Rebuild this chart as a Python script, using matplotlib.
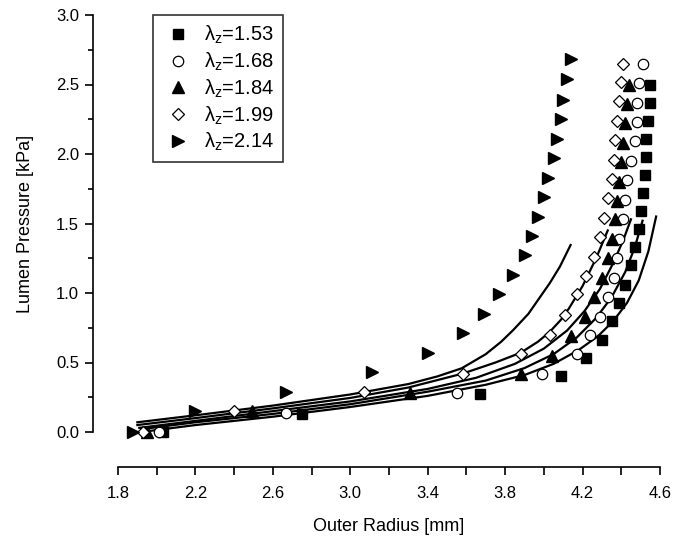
import numpy as np
import matplotlib
matplotlib.use("Agg")
import matplotlib.pyplot as plt
from matplotlib.ticker import MultipleLocator, FixedLocator

plt.rcParams['font.family'] = ['Liberation Sans', 'DejaVu Sans']

# ==============================================================================
# DATA
# ==============================================================================
stretch_labels = ['1.53', '1.68', '1.84', '1.99', '2.14']
x_ticks = [1.8, 2.2, 2.6, 3.0, 3.4, 3.8, 4.2, 4.6]

# measured points: outer radius [mm], lumen pressure [kPa]
r_153 = [2.03, 2.75, 3.67, 4.09, 4.22, 4.30, 4.35, 4.39, 4.42, 4.45, 4.47, 4.49,
         4.50, 4.51, 4.52, 4.53, 4.53, 4.54, 4.55, 4.55]
p_153 = [0.00, 0.13, 0.27, 0.40, 0.53, 0.66, 0.80, 0.93, 1.06, 1.20, 1.33, 1.46,
         1.59, 1.72, 1.85, 1.98, 2.11, 2.24, 2.37, 2.50]

r_168 = [2.01, 2.67, 3.55, 3.99, 4.17, 4.24, 4.29, 4.33, 4.36, 4.38, 4.39, 4.41,
         4.42, 4.43, 4.45, 4.47, 4.48, 4.48, 4.49, 4.51]
p_168 = [0.00, 0.14, 0.28, 0.42, 0.56, 0.70, 0.83, 0.97, 1.11, 1.25, 1.39, 1.53,
         1.67, 1.81, 1.95, 2.09, 2.23, 2.37, 2.51, 2.65]

r_184 = [1.95, 2.49, 3.31, 3.88, 4.04, 4.14, 4.21, 4.26, 4.30, 4.33, 4.35, 4.37,
         4.38, 4.39, 4.40, 4.41, 4.42, 4.43, 4.44]
p_184 = [0.00, 0.15, 0.28, 0.42, 0.55, 0.69, 0.83, 0.97, 1.11, 1.25, 1.39, 1.53,
         1.66, 1.80, 1.94, 2.08, 2.22, 2.36, 2.50]

r_199 = [1.93, 2.40, 3.07, 3.58, 3.88, 4.03, 4.11, 4.17, 4.22, 4.26, 4.29, 4.31,
         4.33, 4.35, 4.36, 4.37, 4.38, 4.39, 4.40, 4.41]
p_199 = [0.00, 0.15, 0.29, 0.42, 0.56, 0.70, 0.84, 0.99, 1.12, 1.26, 1.40, 1.54,
         1.68, 1.82, 1.96, 2.10, 2.24, 2.38, 2.52, 2.65]

r_214 = [1.88, 2.20, 2.67, 3.11, 3.40, 3.58, 3.69, 3.77, 3.84, 3.90, 3.94, 3.97,
         4.00, 4.02, 4.05, 4.07, 4.09, 4.10, 4.12, 4.14]
p_214 = [0.00, 0.15, 0.29, 0.43, 0.57, 0.71, 0.85, 0.99, 1.13, 1.27, 1.41, 1.55,
         1.69, 1.83, 1.97, 2.11, 2.25, 2.39, 2.54, 2.68]

# model curves
fit_r_153 = [1.92, 2.2, 2.6, 3.0, 3.4, 3.7, 3.9, 4.05, 4.18, 4.28, 4.36, 4.43,
             4.49, 4.54, 4.58]
fit_p_153 = [0.00, 0.05, 0.11, 0.18, 0.26, 0.34, 0.41, 0.49, 0.59, 0.69, 0.80, 0.93,
             1.09, 1.30, 1.55]
fit_r_168 = [1.92, 2.2, 2.6, 3.0, 3.4, 3.7, 3.9, 4.05, 4.17, 4.27, 4.35, 4.42,
             4.47, 4.51]
fit_p_168 = [0.02, 0.07, 0.13, 0.20, 0.29, 0.37, 0.46, 0.56, 0.68, 0.82, 0.97, 1.15,
             1.33, 1.52]
fit_r_184 = [1.91, 2.2, 2.6, 3.0, 3.4, 3.65, 3.85, 4.0, 4.12, 4.21, 4.29, 4.36,
             4.41, 4.45]
fit_p_184 = [0.03, 0.08, 0.15, 0.22, 0.31, 0.39, 0.49, 0.60, 0.73, 0.87, 1.03, 1.22,
             1.38, 1.53]
fit_r_199 = [1.90, 2.2, 2.6, 3.0, 3.3, 3.58, 3.75, 3.88, 3.97, 4.03, 4.09, 4.13,
             4.20, 4.27, 4.33]
fit_p_199 = [0.05, 0.10, 0.17, 0.245, 0.32, 0.42, 0.50, 0.57, 0.65, 0.72, 0.81, 0.89,
             1.05, 1.25, 1.45]
fit_r_214 = [1.90, 2.2, 2.6, 3.0, 3.3, 3.45, 3.575, 3.7, 3.78, 3.842, 3.92, 3.98,
             4.03, 4.083, 4.138]
fit_p_214 = [0.07, 0.12, 0.19, 0.27, 0.345, 0.40, 0.458, 0.56, 0.65, 0.734, 0.85, 0.97,
             1.07, 1.19, 1.345]

radii = [r_153, r_168, r_184, r_199, r_214]
pressures = [p_153, p_168, p_184, p_199, p_214]
fit_radii = [fit_r_153, fit_r_168, fit_r_184, fit_r_199, fit_r_214]
fit_pressures = [fit_p_153, fit_p_168, fit_p_184, fit_p_199, fit_p_214]

# ==============================================================================
# STYLES
# ==============================================================================
MARKERS = [
    dict(marker='s', mfc='black', mec='black', ms=6.5),
    dict(marker='o', mfc='white', mec='black', ms=7.5, mew=0.9),
    dict(marker='^', mfc='black', mec='black', ms=8),
    dict(marker='D', mfc='white', mec='black', ms=6.5, mew=0.9),
    dict(marker='>', mfc='black', mec='black', ms=8),
]

fig = plt.figure(figsize=(6.73, 5.46), dpi=100)
ax = fig.add_axes([118 / 673, 1 - 432 / 546, 542 / 673, 417 / 546])

for i, (r, p) in enumerate(zip(radii, pressures)):
    ax.plot(r, p, ls='none', clip_on=False, zorder=3,
            label=r'λ$\mathregular{_z}$=' + stretch_labels[i], **MARKERS[i])

for fr, fp in zip(fit_radii, fit_pressures):
    ax.plot(fr, fp, color='black', lw=1.6, zorder=2, solid_joinstyle='round')

ax.set_xlim(1.8, 4.6)
ax.set_ylim(0, 3.0)

ax.spines['top'].set_visible(False)
ax.spines['right'].set_visible(False)
ax.spines['left'].set_position(('outward', 18))
ax.spines['bottom'].set_position(('outward', 25))
for s in ('left', 'bottom'):
    ax.spines[s].set_linewidth(1.2)

ax.xaxis.set_major_locator(FixedLocator(x_ticks))
ax.xaxis.set_minor_locator(MultipleLocator(0.2))
ax.yaxis.set_major_locator(MultipleLocator(0.5))
ax.yaxis.set_minor_locator(MultipleLocator(0.25))
ax.xaxis.set_major_formatter(plt.FormatStrFormatter('%.1f'))
ax.yaxis.set_major_formatter(plt.FormatStrFormatter('%.1f'))
ax.tick_params(axis='x', which='both', direction='out', length=6, width=1.2,
               labelsize=12, pad=8)
ax.tick_params(axis='y', which='major', direction='out', length=6, width=1.2,
               labelsize=12, pad=4)
ax.tick_params(axis='y', which='minor', direction='out', length=3.5, width=1.2)

ax.set_xlabel('Outer Radius [mm]', fontsize=13, labelpad=12)
ax.set_ylabel('Lumen Pressure [kPa]', fontsize=13, labelpad=16)

leg = ax.legend(loc='upper left', bbox_to_anchor=(0.064, 1.0), borderaxespad=0,
                fontsize=14.5, frameon=True, fancybox=False, handletextpad=0.5,
                labelspacing=0.22, borderpad=0.45, handlelength=1.6)
leg.get_frame().set_edgecolor('black')
leg.get_frame().set_linewidth(1.2)

fig.savefig('out.png', dpi=100)
